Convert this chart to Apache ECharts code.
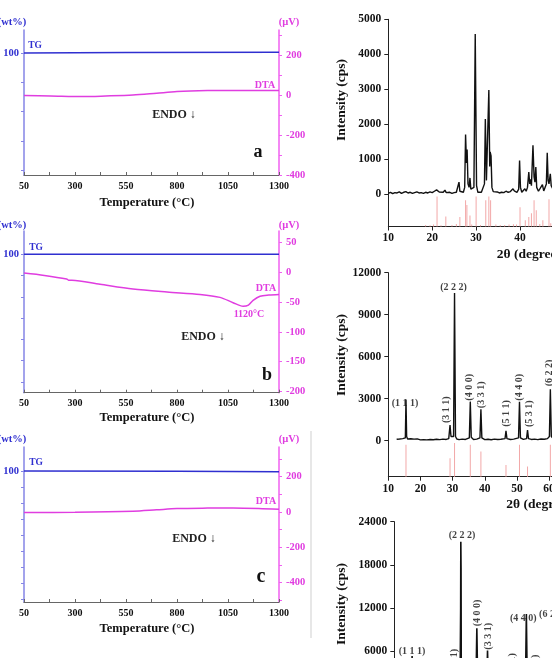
<!DOCTYPE html>
<html>
<head>
<meta charset="utf-8">
<script src="https://cdn.jsdelivr.net/npm/echarts@6/dist/echarts.min.js"></script>
<style>
  html, body { margin: 0; padding: 0; background: #fff; }
  #chart { width: 552px; height: 658px; }
</style>
</head>
<body>
<div id="chart"></div>
<script>
// ---- TG / DTA panels (left) ----
var tempTicks = [50, 175, 300, 425, 550, 675, 800, 925, 1050, 1175, 1300];
var tempLabels = [50, 300, 550, 800, 1050, 1300];

var tgA = [[50, 100], [550, 100.01], [1300, 100.02]];
var dtaA = [[50, -3], [180, -5], [339, -8], [450, -5], [584, 0], [700, 9], [800, 17],
  [950, 22], [1075, 23], [1200, 23], [1300, 22]];

var tgB = [[50, 100], [1300, 100]];
var dtaB = [[50, -1], [150, -5], [259, -11], [268, -13], [285, -13], [423, -20], [584, -28],
  [751, -33], [913, -37], [1011, -42], [1075, -51], [1124, -57], [1150, -55], [1173, -47],
  [1207, -40], [1250, -38], [1300, -37]];

var tgC = [[50, 100], [800, 99.98], [1300, 99.95]];
var dtaC = [[50, -3], [300, -2], [584, 4], [700, 12], [800, 19], [950, 22], [1075, 23],
  [1200, 20], [1300, 15]];

// ---- XRD panels (right) ----
var xrd1 = [[10, 30], [10.5, 60], [11, 20], [11.5, 50], [12, 40], [12.5, 70], [13, 30], [13.5, 60],
  [14, 80], [14.5, 40], [15, 60], [15.5, 30], [16, 50], [16.5, 70], [17, 40], [17.5, 50], [18, 30],
  [18.5, 60], [19, 40], [19.5, 70], [20, 50], [20.5, 90], [21, 130], [21.3, 140], [21.6, 70],
  [22, 40], [22.5, 60], [22.9, 120], [23.2, 50], [23.6, 40], [24, 60], [24.5, 30], [25, 50],
  [25.5, 60], [25.9, 80], [26.1, 350], [26.3, 90], [26.7, 50], [27.1, 60], [27.4, 200],
  [27.6, 1710], [27.8, 900], [27.95, 1280], [28.15, 300], [28.4, 200], [28.6, 470], [28.8, 150],
  [29.2, 100], [29.5, 200], [29.8, 4580], [30.1, 250], [30.4, 60], [30.8, 80], [31.2, 60],
  [31.6, 100], [31.9, 300], [32.1, 2150], [32.35, 400], [32.6, 400], [32.9, 2980], [33.1, 800],
  [33.2, 1210], [33.4, 1100], [33.6, 200], [33.9, 80], [34.3, 50], [34.8, 70], [35.3, 40],
  [35.8, 60], [36.3, 50], [36.8, 90], [37.0, 120], [37.3, 60], [37.8, 80], [38.1, 130],
  [38.4, 160], [38.7, 100], [39.0, 120], [39.3, 60], [39.7, 150], [39.9, 970], [40.1, 200],
  [40.4, 60], [40.8, 80], [41.1, 160], [41.4, 90], [41.7, 200], [42.0, 640], [42.2, 300],
  [42.35, 430], [42.6, 250], [42.95, 1400], [43.2, 500], [43.4, 350], [43.6, 780], [43.8, 200],
  [44.2, 90], [44.6, 120], [45.1, 280], [45.4, 100], [45.8, 150], [46.0, 300], [46.2, 1190],
  [46.4, 400], [46.6, 300], [46.9, 590], [47.1, 250], [47.5, 150], [48, 120], [49, 80]];
var ref1 = [[18.5, 5], [19.5, 4], [20.3, 6], [21.1, 92], [22, 4], [23.1, 31], [24.5, 5], [25.5, 8],
  [26.3, 29], [27.6, 81], [27.9, 66], [28.6, 34], [29, 6], [30.0, 92], [31, 5], [32.2, 81],
  [32.9, 92], [33.3, 81], [34.5, 6], [35.5, 5], [36.5, 5], [37.5, 6], [38.5, 7], [39.2, 6],
  [40.0, 59], [41.2, 19], [42.0, 29], [42.6, 41], [43.2, 81], [43.7, 50], [44.5, 8], [45.2, 19],
  [46.6, 84], [47, 10]];

var xrd2 = [[12.6, 100], [13, 60], [13.5, 120], [14, 80], [14.5, 150], [15, 100], [15.3, 200],
  [15.5, 2950], [15.7, 300], [16, 120], [16.5, 80], [17, 140], [17.5, 90], [18, 110], [18.5, 70],
  [19, 130], [19.5, 90], [20, 60], [20.5, 100], [21, 80], [22, 60], [23, 90], [24, 70], [25, 100],
  [26, 80], [27, 110], [28, 90], [28.8, 150], [29.2, 1120], [29.5, 300], [29.9, 200], [30.3, 300],
  [30.6, 10550], [30.9, 300], [31.3, 120], [32, 80], [33, 110], [34, 90], [35.2, 200],
  [35.5, 2790], [35.8, 250], [36.5, 90], [37.5, 110], [38.5, 200], [38.8, 2250], [39.1, 200],
  [40, 80], [41, 100], [42, 70], [43, 110], [44, 90], [45, 100], [46.3, 150], [46.6, 710],
  [46.9, 150], [48, 90], [49, 110], [50.5, 200], [50.8, 2790], [51.1, 200], [52, 90], [53, 150],
  [53.3, 760], [53.6, 150], [54.5, 90], [55.5, 110], [56.5, 80], [57.5, 120], [58.5, 100],
  [59.5, 150], [60.1, 300], [60.4, 3670], [60.7, 300], [61.5, 120], [62.5, 100], [64, 90]];
var ref2 = [[15.5, 95], [29.2, 55], [30.6, 100], [35.5, 95], [38.8, 75], [46.6, 35], [50.8, 95],
  [53.3, 30], [60.4, 95]];

var xrd3 = [[12.6, 200], [14, 180], [15.2, 300], [15.5, 5300], [15.8, 300], [17, 200], [20, 180],
  [25, 200], [28.9, 300], [29.2, 2300], [29.5, 300], [30.3, 400], [30.5, 12000], [30.55, 21220],
  [30.62, 17500], [30.7, 900], [31.5, 250], [35.2, 300], [35.5, 9160], [35.8, 300], [38.5, 300],
  [38.8, 6040], [39.1, 300], [43, 200], [46.3, 250], [46.6, 1700], [46.9, 250], [50.5, 300],
  [50.8, 11150], [51.1, 300], [53, 250], [53.3, 1500], [53.6, 250], [60.1, 300], [60.4, 11700],
  [60.7, 300], [64, 200]];

var hklNames = ['(1 1 1)', '(3 1 1)', '(2 2 2)', '(4 0 0)', '(3 3 1)', '(5 1 1)', '(4 4 0)', '(5 3 1)', '(6 2 2)'];
var hklPos = [15.5, 29.2, 30.6, 35.5, 38.8, 46.6, 50.8, 53.3, 60.4];
var hkl2Top = [2950, 1120, 10550, 2790, 2250, 710, 2790, 760, 3670];
var hkl3Top = [5300, 2300, 21220, 9160, 6040, 1700, 11150, 1500, 11700];

// label placement (vertical?, dx, dy in px from the peak top)
var hkl2Place = [[0, -1, 4], [1, -4, -2], [0, -1, -6], [1, -1, -1], [1, 1, -1], [1, 0, -4], [1, 0, -1], [1, 2, -3], [1, -1, -3]];
var hkl3Place = [[0, 0, -5], [1, -2, -2], [0, 1, -6], [1, 1, -2], [1, 1, -1], [1, 0, -2], [0, -3, 4], [1, 1, -2], [0, -5, 4]];

var F = "'Liberation Serif', 'Times New Roman', serif";
var BLUE = '#2f2fd0', MAG = '#e03de0';
function plain(v) { return String(v); }

function tempAxis(g, gap) {
  return {
    type: 'value', gridIndex: g, min: 50, max: 1300,
    axisLine: { show: true, onZero: false, lineStyle: { color: '#666', width: 1.2 } },
    axisTick: { show: true, inside: true, length: 3, customValues: tempTicks, lineStyle: { color: '#666' } },
    axisLabel: { customValues: tempLabels, formatter: plain, color: '#111', fontFamily: F, fontWeight: 'bold', fontSize: 10, margin: 6 },
    splitLine: { show: false },
    name: 'Temperature (°C)', nameLocation: 'middle', nameGap: gap, nameMoveOverlap: false,
    nameTextStyle: { color: '#111', fontFamily: F, fontWeight: 'bold', fontSize: 12.5, padding: [0, 9, 0, 0] }
  };
}
function tgAxis(g, min, max, ticks) {
  return {
    type: 'value', gridIndex: g, position: 'left', min: min, max: max,
    axisLine: { show: true, lineStyle: { color: '#8585e6', width: 1.5 } },
    axisTick: { show: true, length: 3, customValues: ticks, lineStyle: { color: '#8585e6' } },
    axisLabel: { customValues: [100], formatter: plain, color: BLUE, fontFamily: F, fontWeight: 'bold', fontSize: 10.5, margin: 5 },
    splitLine: { show: false }
  };
}
function dtaAxis(g, min, max, ticks, labels) {
  return {
    type: 'value', gridIndex: g, position: 'right', min: min, max: max,
    axisLine: { show: true, lineStyle: { color: '#f060f0', width: 1.5 } },
    axisTick: { show: true, length: 3, customValues: ticks, lineStyle: { color: '#f060f0' } },
    axisLabel: { customValues: labels, formatter: plain, color: MAG, fontFamily: F, fontWeight: 'bold', fontSize: 10.5, margin: 7 },
    splitLine: { show: false }
  };
}
function thetaAxis(g, max, gap) {
  return {
    type: 'value', gridIndex: g, min: 10, max: max, interval: 10,
    axisLine: { show: true, onZero: false, lineStyle: { color: '#222', width: 1 } },
    axisTick: { show: true, length: 4, lineStyle: { color: '#222' } },
    axisLabel: { formatter: plain, color: '#111', fontFamily: F, fontWeight: 'bold', fontSize: 11.5, margin: 6,
      showMaxLabel: false },
    splitLine: { show: false },
    name: '2θ (degree)', nameLocation: 'middle', nameGap: gap, nameMoveOverlap: false,
    nameTextStyle: { color: '#111', fontFamily: F, fontWeight: 'bold', fontSize: 13.5 }
  };
}
function cpsAxis(g, min, max, ticks) {
  return {
    type: 'value', gridIndex: g, min: min, max: max,
    axisLine: { show: true, lineStyle: { color: '#222', width: 1 } },
    axisTick: { show: true, length: 4, customValues: ticks, lineStyle: { color: '#222' } },
    axisLabel: { customValues: ticks, formatter: plain, color: '#111', fontFamily: F, fontWeight: 'bold', fontSize: 11.5, margin: 7 },
    splitLine: { show: false }
  };
}
function hidden(g, min, max) {
  return { type: 'value', gridIndex: g, min: min, max: max, show: false };
}
function hklItems(tops, place) {
  return hklNames.map(function (n, i) {
    var p = place[i];
    var lab = { show: true, formatter: n, position: [p[1] + 0.5, p[2] + 0.5],
      align: p[0] ? 'left' : 'center', verticalAlign: 'middle', rotate: p[0] ? 90 : 0 };
    return { value: [hklPos[i], tops[i]], label: lab };
  });
}
function line(xi, yi, data, color, width, smooth) {
  return { type: 'line', xAxisIndex: xi, yAxisIndex: yi, data: data, showSymbol: false, symbol: 'none',
    smooth: smooth || false, lineStyle: { color: color, width: width }, silent: true, animation: false };
}
function sticks(xi, yi, data) {
  return { type: 'bar', xAxisIndex: xi, yAxisIndex: yi, data: data, barWidth: 1, silent: true,
    itemStyle: { color: '#f2a8a8' }, animation: false };
}
function labels(xi, yi, items) {
  return { type: 'scatter', xAxisIndex: xi, yAxisIndex: yi, data: items, symbolSize: 1, silent: true,
    itemStyle: { color: 'rgba(0,0,0,0)' }, animation: false, z: 5,
    label: { show: true, color: '#111', fontFamily: F, fontWeight: 'bold', fontSize: 10 } };
}
function txt(x, y, s, color, size, rot) {
  return { type: 'text', x: x, y: y, rotation: rot || 0, silent: true,
    style: { text: s, fill: color, font: 'bold ' + size + 'px ' + F,
      textAlign: 'center', align: 'center', textVerticalAlign: 'middle', verticalAlign: 'middle' } };
}
function grid(l, t, w, h) {
  return { left: l, top: t, width: w, height: h, outerBoundsMode: 'none', containLabel: false };
}

var chart = echarts.init(document.getElementById('chart'));
chart.setOption({
  animation: false,
  backgroundColor: '#fff',
  grid: [
    grid(24, 30, 255, 145),
    grid(24, 231, 255, 161.7),
    grid(24, 447, 255, 155),
    grid(388.3, 19.3, 281, 207.2),
    grid(388.3, 194, 281, 32.5),
    grid(388.3, 272.7, 300, 204),
    grid(388.3, 443, 300, 33.7),
    grid(394.3, 521.7, 302, 201)
  ],
  xAxis: [
    tempAxis(0, 21), tempAxis(1, 19), tempAxis(2, 20),
    thetaAxis(3, 74, 21), hidden(4, 10, 74), thetaAxis(5, 103.3, 21), hidden(6, 10, 103.3), thetaAxis(7, 103.3, 21)
  ],
  yAxis: [
    tgAxis(0, 95.84, 100.78, [100, 99, 98, 97, 96]),
    dtaAxis(0, -400, 325, [300, 200, 100, 0, -100, -200, -300, -400], [200, 0, -200, -400]),
    tgAxis(1, 93.5, 101.09, [100, 99, 98, 97, 96, 95, 94]),
    dtaAxis(1, -202.4, 69.7, [50, 0, -50, -100, -150, -200], [50, 0, -50, -100, -150, -200]),
    tgAxis(2, 91.86, 101.49, [100, 99, 98, 97, 96, 95, 94, 93, 92]),
    dtaAxis(2, -510, 368, [300, 200, 100, 0, -100, -200, -300, -400, -500], [200, 0, -200, -400]),
    cpsAxis(3, -917, 5000, [0, 1000, 2000, 3000, 4000, 5000]),
    hidden(4, 0, 100),
    cpsAxis(5, -2571, 12000, [0, 3000, 6000, 9000, 12000]),
    hidden(6, 0, 100),
    cpsAxis(7, -4000, 24000, [0, 6000, 12000, 18000, 24000])
  ],
  series: [
    line(0, 0, tgA, BLUE, 1.5), line(0, 1, dtaA, MAG, 1.5, 0.3),
    line(1, 2, tgB, BLUE, 1.5), line(1, 3, dtaB, MAG, 1.5, 0.3),
    line(2, 4, tgC, BLUE, 1.5), line(2, 5, dtaC, MAG, 1.5, 0.3),
    sticks(4, 7, ref1), line(3, 6, xrd1, '#111', 1.4),
    sticks(6, 9, ref2), line(5, 8, xrd2, '#111', 1.4), labels(5, 8, hklItems(hkl2Top, hkl2Place)),
    line(7, 10, xrd3, '#111', 1.6), labels(7, 10, hklItems(hkl3Top, hkl3Place))
  ],
  graphic: [
    txt(12, 22, '(wt%)', BLUE, 10.5), txt(289, 22, '(µV)', MAG, 10.5),
    txt(12, 225, '(wt%)', BLUE, 10.5), txt(289, 225, '(µV)', MAG, 10.5),
    txt(12, 439, '(wt%)', BLUE, 10.5), txt(289, 439, '(µV)', MAG, 10.5),
    txt(35, 46, 'TG', BLUE, 9.5), txt(36, 248, 'TG', BLUE, 9.5), txt(36, 463, 'TG', BLUE, 9.5),
    txt(265, 85, 'DTA', MAG, 10), txt(266, 288, 'DTA', MAG, 10), txt(266, 501, 'DTA', MAG, 10),
    txt(249, 314, '1120°C', MAG, 10),
    txt(174, 115, 'ENDO ↓', '#222', 12), txt(203, 337, 'ENDO ↓', '#222', 12), txt(194, 539, 'ENDO ↓', '#222', 12),
    txt(258, 152, 'a', '#111', 18), txt(267, 375, 'b', '#111', 18), txt(261, 577, 'c', '#111', 20),
    txt(341.7, 100, 'Intensity (cps)', '#111', 13.5, Math.PI / 2),
    txt(341.7, 355, 'Intensity (cps)', '#111', 13.5, Math.PI / 2),
    txt(341.7, 604, 'Intensity (cps)', '#111', 13.5, Math.PI / 2),
    { type: 'line', silent: true, shape: { x1: 311, y1: 431, x2: 311, y2: 638 }, style: { stroke: '#cfcfcf', lineWidth: 1 } }
  ]
});
</script>
</body>
</html>
